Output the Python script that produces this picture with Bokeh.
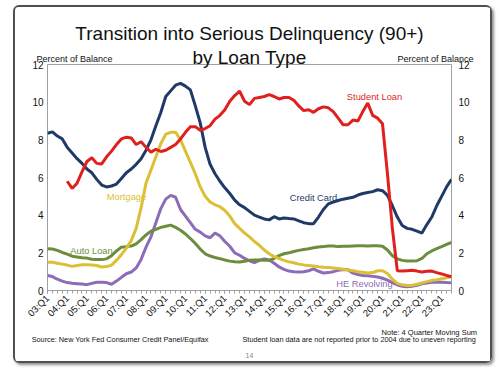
import numpy as np
from bokeh.plotting import figure
from bokeh.models import Range1d, LinearAxis, FixedTicker, Label, Title
from bokeh.embed import file_html
from bokeh.resources import INLINE

NaN = float("nan")

quarters = list(range(83))  # 03:Q1 .. 23:Q3
tick_labels = ["03:Q1", "04:Q1", "05:Q1", "06:Q1", "07:Q1", "08:Q1", "09:Q1", "10:Q1",
               "11:Q1", "12:Q1", "13:Q1", "14:Q1", "15:Q1", "16:Q1", "17:Q1", "18:Q1",
               "19:Q1", "20:Q1", "21:Q1", "22:Q1", "23:Q1"]

credit_card = [8.35, 8.42, 8.2, 8.05, 7.6, 7.3, 7.0, 6.75, 6.45, 6.25, 5.9, 5.6, 5.5, 5.55,
               5.65, 5.95, 6.25, 6.45, 6.7, 7.0, 7.45, 8.0, 8.75, 9.45, 10.3, 10.6, 10.9, 11.0,
               10.85, 10.65, 9.8, 8.9, 7.6, 6.7, 6.2, 5.8, 5.45, 5.15, 4.8, 4.55, 4.4, 4.2, 4.0,
               3.9, 3.8, 3.75, 3.92, 3.8, 3.85, 3.82, 3.8, 3.7, 3.6, 3.55, 3.55, 3.9, 4.3, 4.6,
               4.7, 4.78, 4.85, 4.9, 4.95, 5.07, 5.15, 5.2, 5.25, 5.35, 5.3, 5.05, 4.5, 3.9,
               3.45, 3.3, 3.25, 3.15, 3.05, 3.5, 3.9, 4.5, 5.0, 5.5, 5.9]

student_loan = [NaN, NaN, NaN, NaN, 5.8, 5.42, 5.7, 6.3, 6.85, 7.05, 6.75, 6.72, 7.1, 7.4,
                7.75, 8.05, 8.14, 8.1, 7.75, 7.9, 7.6, 7.35, 7.5, 7.38, 7.45, 7.6, 7.75, 8.05,
                8.4, 8.7, 8.7, 8.5, 8.6, 8.75, 9.1, 9.3, 9.6, 10.05, 10.35, 10.58, 10.05, 9.87,
                10.2, 10.25, 10.3, 10.4, 10.3, 10.17, 10.25, 10.25, 10.1, 9.8, 9.55, 9.6, 9.46,
                9.65, 9.75, 9.7, 9.5, 9.15, 8.8, 8.8, 9.05, 9.0, 9.5, 9.95, 9.3, 9.15, 8.85,
                6.2, 3.3, 1.05, 1.03, 1.05, 1.07, 1.03, 0.98, 1.02, 1.03, 0.95, 0.88, 0.8, 0.73]

mortgage = [1.5, 1.5, 1.45, 1.4, 1.35, 1.28, 1.33, 1.37, 1.37, 1.36, 1.33, 1.25, 1.27, 1.35,
            1.6, 1.9, 2.25, 2.65, 3.3, 4.4, 5.7, 6.4, 7.1, 7.8, 8.3, 8.4, 8.4, 8.0, 7.4, 6.8,
            6.2, 5.5, 5.0, 4.7, 4.55, 4.45, 4.25, 3.95, 3.55, 3.3, 3.05, 2.85, 2.6, 2.4, 2.15,
            1.95, 1.8, 1.7, 1.6, 1.52, 1.47, 1.4, 1.36, 1.33, 1.3, 1.26, 1.23, 1.22, 1.2, 1.17,
            1.13, 1.09, 1.05, 1.0, 0.97, 0.93, 0.95, 1.05, 1.05, 0.9, 0.6, 0.38, 0.3, 0.27,
            0.28, 0.33, 0.4, 0.47, 0.53, 0.57, 0.62, 0.68, 0.75]

auto_loan = [2.22, 2.2, 2.13, 2.02, 1.93, 1.82, 1.78, 1.74, 1.72, 1.66, 1.65, 1.64, 1.68, 1.85,
             2.1, 2.3, 2.33, 2.36, 2.48, 2.7, 2.95, 3.15, 3.25, 3.35, 3.41, 3.47, 3.35, 3.2,
             3.0, 2.76, 2.5, 2.2, 1.95, 1.83, 1.75, 1.69, 1.62, 1.56, 1.53, 1.51, 1.55, 1.6,
             1.62, 1.62, 1.6, 1.6, 1.7, 1.85, 1.95, 2.0, 2.07, 2.13, 2.18, 2.22, 2.27, 2.31,
             2.33, 2.36, 2.36, 2.33, 2.35, 2.35, 2.36, 2.37, 2.37, 2.36, 2.37, 2.38, 2.35,
             2.15, 1.85, 1.68, 1.6, 1.57, 1.56, 1.58, 1.7, 1.95, 2.1, 2.22, 2.33, 2.45, 2.55]

he_revolving = [0.8, 0.74, 0.6, 0.5, 0.42, 0.38, 0.36, 0.34, 0.31, 0.38, 0.44, 0.44, 0.42, 0.33,
                0.5, 0.7, 0.89, 0.98, 1.2, 1.65, 2.3, 2.85, 3.6, 4.35, 4.85, 5.05, 4.95, 4.3,
                3.95, 3.6, 3.25, 3.1, 2.9, 2.8, 3.05, 2.9, 2.6, 2.35, 2.0, 1.87, 1.7, 1.58, 1.48,
                1.6, 1.68, 1.62, 1.45, 1.25, 1.12, 1.03, 1.0, 0.98, 1.0, 1.05, 1.15, 1.02, 0.93,
                0.95, 1.0, 1.07, 1.12, 1.1, 0.92, 0.85, 0.8, 0.78, 0.75, 0.72, 0.65, 0.55, 0.42,
                0.3, 0.22, 0.2, 0.22, 0.28, 0.36, 0.4, 0.44, 0.44, 0.44, 0.42, 0.41]

# texts set outside the plot frame, with the x position (in quarter units) of their centres
unit_text = "Percent of Balance"
unit_pos = [5.5, 78.75]
note_text = "Note: 4 Quarter Moving Sum"
note_pos = 77.5
source_texts = ["Source: New York Fed Consumer Credit Panel/Equifax",
                "Student loan data are not reported prior to 2004 due to uneven reporting"]
source_pos = [14.75, 63.25]

C_CC = "#1f3a66"
C_SL = "#e01f1f"
C_MT = "#dbbf35"
C_AL = "#6c8e3c"
C_HE = "#8c6cb6"
FONT = "Liberation Sans"

W, H = 479, 358
FL, FR, FT, FB = 32, 43, 57, 75

p = figure(width=W, height=H, output_backend="svg", toolbar_location=None,
           x_range=Range1d(0, 82), y_range=Range1d(0, 12),
           min_border_left=FL, min_border_right=FR, min_border_top=FT, min_border_bottom=FB)
p.xgrid.visible = False
p.ygrid.visible = False
p.outline_line_color = "#a0a0a0"
p.background_fill_color = "white"
p.border_fill_color = "white"


def plain_axis(**kw):
    return LinearAxis(axis_line_color=None, major_tick_line_color=None,
                      minor_tick_line_color=None, major_tick_out=0, major_tick_in=0,
                      minor_tick_out=0, minor_tick_in=0, major_label_text_font=FONT,
                      major_label_text_color="#111111", **kw)


# y axes
yticks = FixedTicker(ticks=[0, 2, 4, 6, 8, 10, 12])
for ax in p.yaxis:
    ax.ticker = yticks
    ax.axis_line_color = None
    ax.major_tick_line_color = None
    ax.minor_tick_line_color = None
    ax.major_tick_out = 0
    ax.major_tick_in = 0
    ax.minor_tick_out = 0
    ax.minor_tick_in = 0
    ax.major_label_standoff = 4
    ax.major_label_text_font = FONT
    ax.major_label_text_font_size = "10px"
    ax.major_label_text_color = "#111111"
p.add_layout(plain_axis(ticker=yticks, major_label_standoff=7,
                        major_label_text_font_size="10px"), "right")

# x axis
xt = list(range(0, 83, 4))
xax = p.xaxis[0]
xax.ticker = FixedTicker(ticks=xt, minor_ticks=quarters)
xax.major_label_overrides = {t: lab for t, lab in zip(xt, tick_labels)}
xax.major_label_orientation = np.pi / 4
xax.axis_line_color = None
xax.major_tick_line_color = "#a0a0a0"
xax.minor_tick_line_color = "#a0a0a0"
xax.major_tick_in = 0
xax.major_tick_out = 3
xax.minor_tick_in = 0
xax.minor_tick_out = 3
xax.major_label_standoff = 3
xax.major_label_text_font = FONT
xax.major_label_text_font_size = "9.5px"
xax.major_label_text_color = "#111111"

# top row: unit labels, with the second title line as the axis label
top_ax = plain_axis(ticker=FixedTicker(ticks=unit_pos),
                    major_label_overrides={v: unit_text for v in unit_pos},
                    major_label_text_font_size="9px", major_label_standoff=1,
                    axis_label="by Loan Type", axis_label_text_font=FONT,
                    axis_label_text_font_size="19px", axis_label_text_font_style="normal",
                    axis_label_text_color="#111111", axis_label_standoff=-17)
p.add_layout(top_ax, "above")
p.add_layout(Title(text="Transition into Serious Delinquency (90+)", align="center",
                   text_font=FONT, text_font_size="19px", text_font_style="normal",
                   text_color="#111111", standoff=0), "above")

# bottom rows: notes
p.add_layout(plain_axis(ticker=FixedTicker(ticks=[note_pos]),
                        major_label_overrides={note_pos: note_text},
                        major_label_text_font_size="7.5px", major_label_standoff=2), "below")
p.add_layout(plain_axis(ticker=FixedTicker(ticks=source_pos),
                        major_label_overrides={v: t for v, t in zip(source_pos, source_texts)},
                        major_label_text_font_size="7.3px", major_label_standoff=-5,
                        axis_label="14", axis_label_text_font=FONT,
                        axis_label_text_font_size="7px", axis_label_text_font_style="normal",
                        axis_label_text_color="#888888", axis_label_standoff=6), "below")

# series
lw = 3
p.line(quarters, he_revolving, line_color=C_HE, line_width=lw)
p.line(quarters, auto_loan, line_color=C_AL, line_width=lw)
p.line(quarters, mortgage, line_color=C_MT, line_width=lw)
p.line(quarters, credit_card, line_color=C_CC, line_width=lw)
p.line(quarters, np.array(student_loan), line_color=C_SL, line_width=lw)


# series labels (placed by page pixel of the reference frame: x 47..451, y 64..290)
def dx(px):
    return (px - 47) / 404 * 82


def dy(py):
    return (290 - py) / 226 * 12


def lab(text, px, py, color):
    p.add_layout(Label(x=dx(px), y=dy(py), text=text, text_font=FONT,
                       text_font_size="9.3px", text_color=color, text_align="center",
                       text_baseline="middle"))


lab("Student Loan", 374, 96, C_SL)
lab("Credit Card", 313, 197, C_CC)
lab("Mortgage", 126, 196, C_MT)
lab("Auto Loan", 91, 250, C_AL)
lab("HE Revolving", 364, 283, C_HE)

p.styles = {"margin-left": "13px", "margin-top": "5px", "border": "2px solid #505050",
            "border-radius": "6px", "box-shadow": "2px 2px 3px #909090"}

open("out.html", "w").write(file_html(p, INLINE))
